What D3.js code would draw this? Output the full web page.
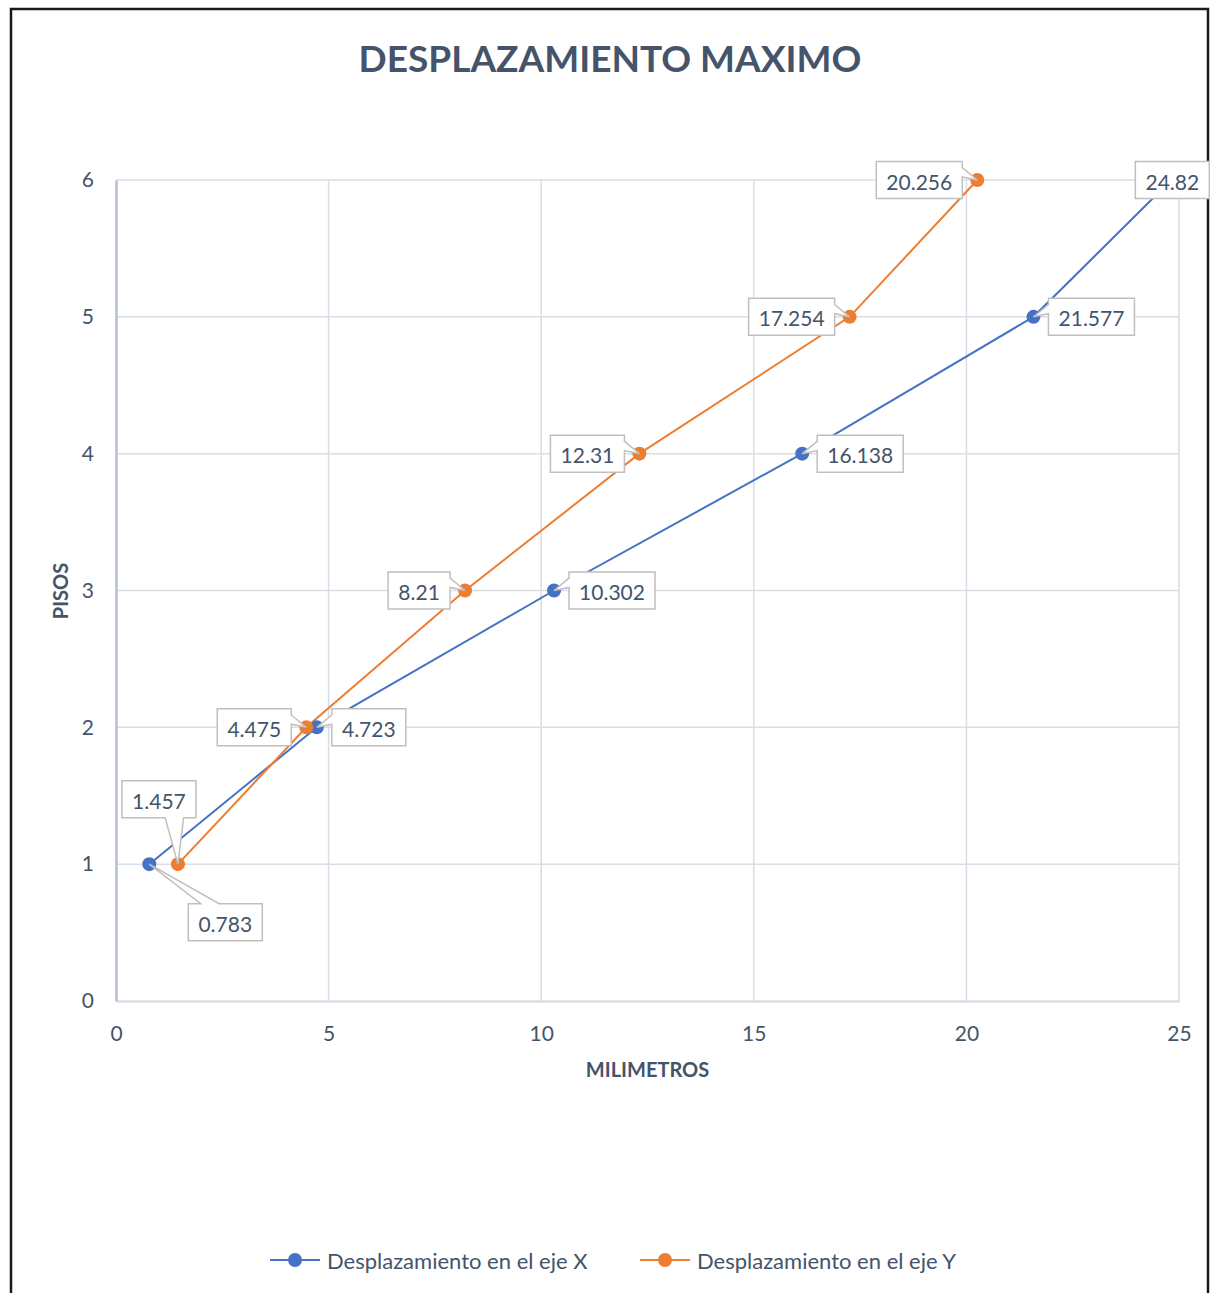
<!DOCTYPE html>
<html>
<head>
<meta charset="utf-8">
<script src="https://cdn.jsdelivr.net/npm/d3@7"></script>
<style>
  body { margin: 0; background: #ffffff; }
  svg text { font-family: Lato, "Open Sans", "DejaVu Sans", sans-serif; }
</style>
</head>
<body>
<svg id="chart" width="1210" height="1293"></svg>
<script>
// Storey number (vertical axis) and maximum displacement in mm for each direction
const pisos = [1, 2, 3, 4, 5, 6];
const desplazamientoX = [0.783, 4.723, 10.302, 16.138, 21.577, 24.82];
const desplazamientoY = [1.457, 4.475, 8.21, 12.31, 17.254, 20.256];

const xTicks = [0, 5, 10, 15, 20, 25];
const yTicks = [0, 1, 2, 3, 4, 5, 6];

const seriesNames = ["Desplazamiento en el eje X", "Desplazamiento en el eje Y"];
const seriesColors = ["#4472c4", "#ed7d31"];

const chartTitle = "DESPLAZAMIENTO MAXIMO";
const xTitle = "MILIMETROS";
const yTitle = "PISOS";

// Where each value label sits relative to its marker:
// "r" = to the right, "l" = to the left, or an explicit offset of the box centre.
const labelPlacement = [
  [{ dx: 76, dy: 58 }, "r", "r", "r", "r", { dx: 1, dy: 0 }],
  [{ dx: -19, dy: -65 }, "l", "l", "l", "l", "l"]
];

const svg = d3.select("#chart");
const textColor = "#44546a";
const gridColor = "#d9dde6";

// Outer chart frame
svg.append("rect")
  .attr("x", 11).attr("y", 9)
  .attr("width", 1197).attr("height", 1300)
  .attr("fill", "#ffffff")
  .attr("stroke", "#1a1a1a").attr("stroke-width", 2.5);

const plot = { left: 116, right: 1179, top: 180, bottom: 1001 };

const x = d3.scaleLinear().domain([0, 25]).range([plot.left, plot.right]);
const y = d3.scaleLinear().domain([0, 6]).range([plot.bottom, plot.top]);

// Title
svg.append("text")
  .attr("x", 610).attr("y", 57)
  .attr("text-anchor", "middle").attr("dominant-baseline", "central")
  .attr("font-size", 37).attr("font-weight", 700)
  .attr("fill", textColor)
  .text(chartTitle);

// Gridlines
const grid = svg.append("g");
grid.selectAll("line.h").data(yTicks.filter(d => d > 0)).join("line")
  .attr("x1", plot.left).attr("x2", plot.right)
  .attr("y1", d => y(d)).attr("y2", d => y(d))
  .attr("stroke", gridColor).attr("stroke-width", 1.5);
grid.selectAll("line.v").data(xTicks.filter(d => d > 0)).join("line")
  .attr("y1", plot.top).attr("y2", plot.bottom)
  .attr("x1", d => x(d)).attr("x2", d => x(d))
  .attr("stroke", gridColor).attr("stroke-width", 1.5);

// Axes
const xAxis = svg.append("g")
  .attr("transform", `translate(0,${plot.bottom})`)
  .call(d3.axisBottom(x).tickValues(xTicks).tickSize(0).tickPadding(29).tickFormat(d3.format("d")));
xAxis.select(".domain").attr("stroke", "#d3d8e2").attr("stroke-width", 2);

const yAxis = svg.append("g")
  .attr("transform", `translate(${plot.left},0)`)
  .call(d3.axisLeft(y).tickValues(yTicks).tickSize(0).tickPadding(22).tickFormat(d3.format("d")));
yAxis.select(".domain").attr("stroke", "#b4bed2").attr("stroke-width", 2.5);

svg.selectAll(".tick text")
  .attr("font-size", 21)
  .attr("fill", textColor)
  .attr("font-family", "Lato, 'Open Sans', sans-serif");
xAxis.selectAll(".tick text").attr("dy", "0.5em");

// Axis titles
svg.append("text")
  .attr("x", (plot.left + plot.right) / 2).attr("y", 1069)
  .attr("text-anchor", "middle").attr("dominant-baseline", "central")
  .attr("font-size", 20).attr("font-weight", 700).attr("fill", textColor)
  .text(xTitle);

svg.append("text")
  .attr("transform", "translate(60,591) rotate(-90)")
  .attr("text-anchor", "middle").attr("dominant-baseline", "central")
  .attr("font-size", 20).attr("font-weight", 700).attr("fill", textColor)
  .text(yTitle);

// Series lines and markers
const series = [desplazamientoX, desplazamientoY].map((vals, i) => ({
  name: seriesNames[i],
  color: seriesColors[i],
  points: vals.map((v, j) => ({ x: v, y: pisos[j] }))
}));

const line = d3.line().x(d => x(d.x)).y(d => y(d.y));

series.forEach(s => {
  svg.append("path")
    .datum(s.points)
    .attr("d", line)
    .attr("fill", "none")
    .attr("stroke", s.color)
    .attr("stroke-width", 2);
});
series.forEach(s => {
  svg.append("g").selectAll("circle").data(s.points).join("circle")
    .attr("cx", d => x(d.x)).attr("cy", d => y(d.y))
    .attr("r", 7)
    .attr("fill", s.color);
});

// Rectangular callout with a wedge pointing at (px, py)
function calloutPath(l, t, w, h, px, py) {
  const r = l + w, b = t + h, hc = l + w / 2, vc = t + h / 2;
  const dxPos = px - hc, dyPos = py - vc;
  if (Math.abs(dxPos) <= w / 2 && Math.abs(dyPos) <= h / 2) {
    return `M${l},${t}L${r},${t}L${r},${b}L${l},${b}Z`;
  }
  const dq = dxPos * h / w;
  const dz = Math.abs(dyPos) - Math.abs(dq);
  const xg1 = dxPos > 0 ? 7 : 2, xg2 = dxPos > 0 ? 10 : 5;
  const yg1 = dyPos > 0 ? 7 : 2, yg2 = dyPos > 0 ? 10 : 5;
  const x1 = l + w * xg1 / 12, x2 = l + w * xg2 / 12;
  const y1 = t + h * yg1 / 12, y2 = t + h * yg2 / 12;
  if (dz > 0) {
    if (dyPos < 0) return `M${l},${t}L${x1},${t}L${px},${py}L${x2},${t}L${r},${t}L${r},${b}L${l},${b}Z`;
    return `M${l},${t}L${r},${t}L${r},${b}L${x2},${b}L${px},${py}L${x1},${b}L${l},${b}Z`;
  }
  if (dxPos < 0) return `M${l},${t}L${r},${t}L${r},${b}L${l},${b}L${l},${y2}L${px},${py}L${l},${y1}Z`;
  return `M${l},${t}L${r},${t}L${r},${y1}L${px},${py}L${r},${y2}L${r},${b}L${l},${b}Z`;
}

// Data labels
const labelLayer = svg.append("g");
const boxH = 37, padX = 10, gap = 15;
series.forEach((s, si) => {
  s.points.forEach((p, pi) => {
    const px = x(p.x), py = y(p.y);
    const g = labelLayer.append("g");
    const path = g.append("path")
      .attr("fill", "#ffffff").attr("stroke", "#bfbfbf").attr("stroke-width", 1.5);
    const txt = g.append("text")
      .attr("font-size", 21).attr("fill", textColor)
      .attr("text-anchor", "middle").attr("dominant-baseline", "central")
      .text(String(p.x));
    const tw = txt.node().getComputedTextLength();
    const w = Math.round(tw + 2 * padX);
    const place = labelPlacement[si][pi];
    let cx, cy = py;
    if (place === "r") cx = px + gap + w / 2;
    else if (place === "l") cx = px - gap - w / 2;
    else { cx = px + place.dx; cy = py + place.dy; }
    const l = cx - w / 2, t = cy - boxH / 2;
    path.attr("d", calloutPath(l, t, w, boxH, px, py));
    txt.attr("x", cx).attr("y", cy + 1);
  });
});

// Legend
const legend = svg.append("g").attr("transform", "translate(0,1260)");
const legendX = [270, 640];
series.forEach((s, i) => {
  const g = legend.append("g").attr("transform", `translate(${legendX[i]},0)`);
  g.append("line").attr("x1", 0).attr("x2", 50).attr("y1", 0).attr("y2", 0)
    .attr("stroke", s.color).attr("stroke-width", 2);
  g.append("circle").attr("cx", 25).attr("cy", 0).attr("r", 7).attr("fill", s.color);
  g.append("text").attr("x", 57).attr("y", 0)
    .attr("dominant-baseline", "central")
    .attr("font-size", 22).attr("fill", textColor)
    .text(s.name);
});
</script>
</body>
</html>
